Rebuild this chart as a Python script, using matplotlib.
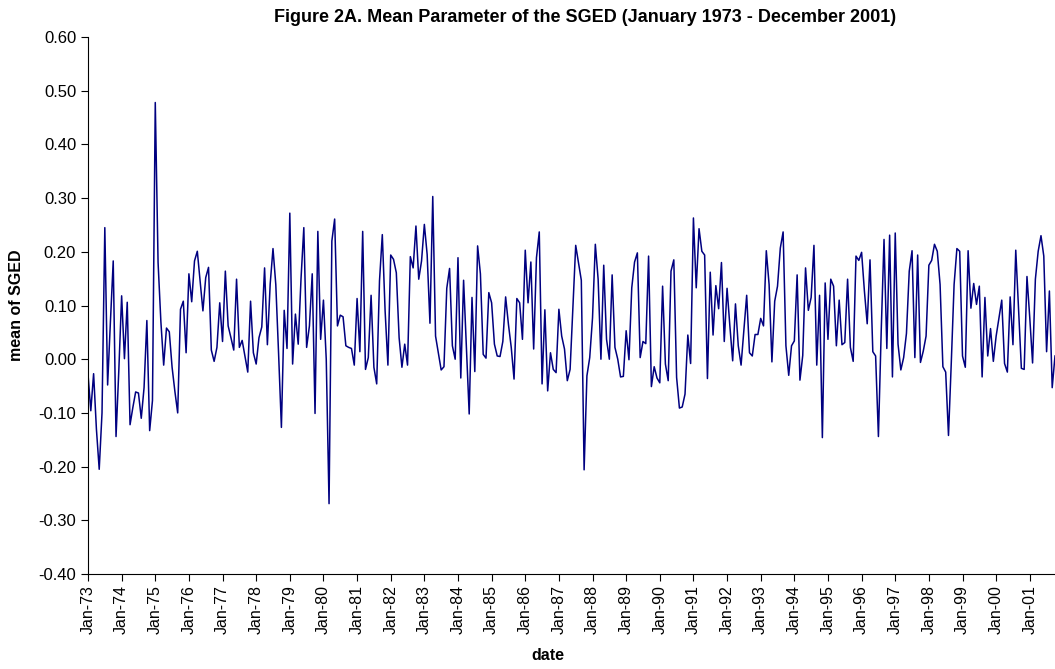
import numpy as np
import matplotlib
matplotlib.use("Agg")
import matplotlib.pyplot as plt

plt.rcParams["font.family"] = ["Liberation Sans", "DejaVu Sans"]

# monthly mean parameter of the SGED, starting Jan-73 (one row per year)
sged_mean = [
    -0.028, -0.096, -0.027, -0.130, -0.205, -0.100, 0.245, -0.048, 0.070, 0.183, -0.144, -0.020,
    0.118, 0.001, 0.106, -0.122, -0.090, -0.061, -0.063, -0.110, -0.053, 0.072, -0.133, -0.077,
    0.478, 0.180, 0.070, -0.011, 0.058, 0.051, -0.015, -0.060, -0.100, 0.093, 0.108, 0.012,
    0.159, 0.107, 0.183, 0.201, 0.145, 0.090, 0.152, 0.171, 0.017, -0.004, 0.022, 0.105,
    0.033, 0.164, 0.062, 0.040, 0.017, 0.149, 0.022, 0.035, 0.006, -0.024, 0.108, 0.012,
    -0.009, 0.040, 0.060, 0.170, 0.027, 0.140, 0.206, 0.139, 0.010, -0.127, 0.091, 0.020,
    0.272, -0.009, 0.084, 0.028, 0.150, 0.245, 0.022, 0.062, 0.159, -0.101, 0.238, 0.037,
    0.110, 0.000, -0.269, 0.220, 0.261, 0.062, 0.082, 0.079, 0.025, 0.022, 0.020, -0.011,
    0.113, 0.014, 0.238, -0.019, 0.003, 0.119, -0.015, -0.046, 0.146, 0.232, 0.090, -0.011,
    0.194, 0.186, 0.161, 0.040, -0.015, 0.028, -0.011, 0.191, 0.170, 0.248, 0.149, 0.183,
    0.251, 0.195, 0.067, 0.303, 0.043, 0.012, -0.020, -0.014, 0.132, 0.169, 0.025, 0.000,
    0.189, -0.035, 0.147, 0.020, -0.102, 0.115, -0.023, 0.211, 0.159, 0.009, 0.002, 0.124,
    0.105, 0.028, 0.006, 0.005, 0.033, 0.116, 0.065, 0.022, -0.037, 0.113, 0.105, 0.037,
    0.203, 0.105, 0.181, 0.019, 0.189, 0.237, -0.046, 0.092, -0.059, 0.012, -0.019, -0.025,
    0.093, 0.043, 0.019, -0.040, -0.019, 0.096, 0.212, 0.180, 0.147, -0.206, -0.031, 0.003,
    0.077, 0.214, 0.149, 0.000, 0.175, 0.037, 0.000, 0.157, 0.022, 0.000, -0.033, -0.032,
    0.053, -0.001, 0.133, 0.181, 0.198, 0.003, 0.033, 0.029, 0.192, -0.051, -0.014, -0.035,
    -0.044, 0.136, -0.009, -0.040, 0.164, 0.185, -0.034, -0.091, -0.089, -0.065, 0.045, -0.008,
    0.263, 0.133, 0.243, 0.201, 0.194, -0.036, 0.162, 0.045, 0.137, 0.094, 0.180, 0.033,
    0.132, 0.062, -0.003, 0.103, 0.025, -0.011, 0.053, 0.119, 0.012, 0.006, 0.046, 0.046,
    0.076, 0.062, 0.202, 0.139, -0.005, 0.108, 0.136, 0.207, 0.237, 0.025, -0.030, 0.025,
    0.034, 0.157, -0.039, 0.007, 0.170, 0.091, 0.115, 0.212, -0.011, 0.119, -0.146, 0.142,
    0.037, 0.149, 0.136, 0.025, 0.110, 0.027, 0.031, 0.149, 0.022, -0.004, 0.192, 0.184,
    0.199, 0.127, 0.066, 0.185, 0.014, 0.006, -0.144, 0.053, 0.223, 0.020, 0.231, -0.033,
    0.235, 0.028, -0.020, 0.003, 0.048, 0.164, 0.202, 0.003, 0.194, -0.006, 0.015, 0.043,
    0.175, 0.184, 0.214, 0.201, 0.139, -0.014, -0.024, -0.142, -0.006, 0.139, 0.206, 0.201,
    0.006, -0.015, 0.202, 0.095, 0.141, 0.102, 0.136, -0.033, 0.115, 0.006, 0.057, -0.004,
    0.043, 0.077, 0.110, -0.008, -0.024, 0.116, 0.027, 0.203, 0.093, -0.017, -0.019, 0.154,
    0.077, -0.007, 0.149, 0.201, 0.230, 0.192, 0.014, 0.127, -0.053, 0.006,
]

year_labels = [
    "Jan-73", "Jan-74", "Jan-75", "Jan-76", "Jan-77", "Jan-78", "Jan-79", "Jan-80",
    "Jan-81", "Jan-82", "Jan-83", "Jan-84", "Jan-85", "Jan-86", "Jan-87", "Jan-88",
    "Jan-89", "Jan-90", "Jan-91", "Jan-92", "Jan-93", "Jan-94", "Jan-95", "Jan-96",
    "Jan-97", "Jan-98", "Jan-99", "Jan-00", "Jan-01",
]

months = np.arange(len(sged_mean))

fig = plt.figure(figsize=(10.55, 6.69), dpi=100)
ax = fig.add_axes([88 / 1055, 1 - 574 / 669, 1 - 88 / 1055, (574 - 37) / 669])

ax.plot(months, sged_mean, color="#000080", lw=1.1)

ax.set_xlim(0, len(sged_mean) - 1)
ax.set_ylim(-0.40, 0.60)
yvals = np.arange(-0.40, 0.61, 0.10)
ax.set_yticks(yvals)
ax.set_yticklabels([f"{v:.2f}".replace("-0.00", "0.00") for v in yvals])
ax.set_xticks(np.arange(len(year_labels)) * 12)
ax.set_xticklabels(year_labels, rotation=90)

ax.tick_params(axis="both", direction="out", length=5, width=0.8, colors="black")
ax.tick_params(axis="y", labelsize=12)
ax.tick_params(axis="x", labelsize=11.5, pad=3)
for side in ["top", "right"]:
    ax.spines[side].set_visible(False)
for side in ["left", "bottom"]:
    ax.spines[side].set_linewidth(0.8)

fig.text(585 / 1055, 1 - 17 / 669, "Figure 2A. Mean Parameter of the SGED (January 1973 - December 2001)",
         ha="center", va="center", fontsize=13, fontweight="bold")
fig.text(17 / 1055, 1 - 305 / 669, "mean of SGED", rotation=90, ha="center", va="center",
         fontsize=11.5, fontweight="bold")
fig.text(548 / 1055, 1 - 656 / 669, "date", ha="center", va="center", fontsize=11.5, fontweight="bold")

fig.savefig("out.png", dpi=100)
